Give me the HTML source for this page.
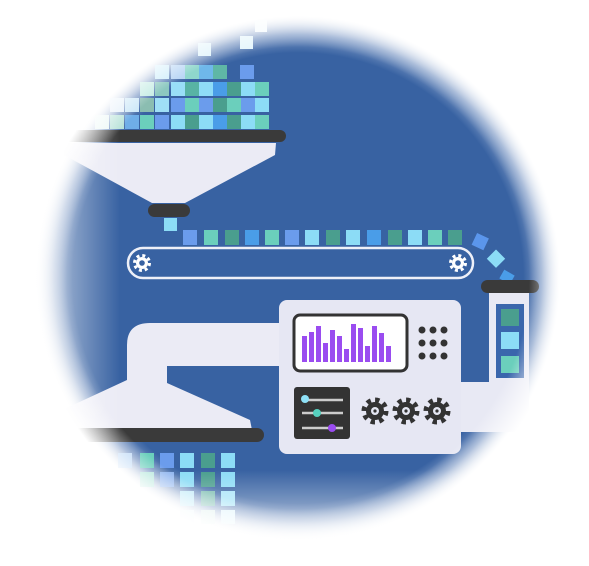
<!DOCTYPE html>
<html><head><style>
html,body{margin:0;padding:0;background:#fff;}
svg{display:block}
</style></head><body>
<svg width="589" height="566" viewBox="0 0 589 566" xmlns="http://www.w3.org/2000/svg">
<defs>
<radialGradient id="bg" cx="298" cy="278" r="262" gradientUnits="userSpaceOnUse">
<stop offset="0" stop-color="#3862a2"/>
<stop offset="0.86" stop-color="#3862a2"/>
<stop offset="0.93" stop-color="#7f9bc7"/>
<stop offset="1" stop-color="#ffffff"/>
</radialGradient>
<radialGradient id="fade" cx="298" cy="278" r="275" gradientUnits="userSpaceOnUse">
<stop offset="0" stop-color="#fff" stop-opacity="0"/>
<stop offset="0.84" stop-color="#fff" stop-opacity="0"/>
<stop offset="0.97" stop-color="#fff" stop-opacity="1"/>
</radialGradient>
<linearGradient id="lf" x1="0" x2="1">
<stop offset="0" stop-color="#fff" stop-opacity="1"/>
<stop offset="1" stop-color="#fff" stop-opacity="0"/>
</linearGradient>
<linearGradient id="bf" x1="0" y1="0" x2="0" y2="1">
<stop offset="0" stop-color="#fff" stop-opacity="0"/>
<stop offset="1" stop-color="#fff" stop-opacity="1"/>
</linearGradient>
<g id="gear">
<circle r="9" fill="#333"/>
<circle r="11" fill="none" stroke="#333" stroke-width="5" stroke-dasharray="4.3 4.3"/>
<circle r="4" fill="#e4e6f2"/>
<circle r="1.6" fill="#333"/>
</g>
<g id="wgear">
<circle r="6" fill="#fff"/>
<circle r="7.5" fill="none" stroke="#fff" stroke-width="3" stroke-dasharray="3 2.9"/>
<circle r="2.8" fill="#3862a2"/>
</g>
</defs>
<rect width="589" height="566" fill="#fff"/>
<ellipse cx="298" cy="278" rx="262" ry="262" fill="url(#bg)"/>

<!-- top pixels -->
<g>
<rect x="198" y="43" width="13" height="13" fill="#def3fb"/>
<rect x="240" y="36" width="13" height="13" fill="#e4f5fb"/>
<rect x="255" y="20" width="12" height="12" fill="#f2fafd"/>
<rect x="155" y="65" width="14" height="14" fill="#cfeefb"/>
<rect x="171" y="65" width="14" height="14" fill="#b9d6f5"/>
<rect x="185" y="65" width="14" height="14" fill="#8fd7cc"/>
<rect x="199" y="65" width="14" height="14" fill="#6fb8ea"/>
<rect x="213" y="65" width="14" height="14" fill="#5fb7a6"/>
<rect x="240" y="65" width="14" height="14" fill="#6b9cec"/>
<rect x="140" y="82" width="14" height="14" fill="#c5ece4"/>
<rect x="155" y="82" width="14" height="14" fill="#8cc8c0"/>
<rect x="171" y="82" width="14" height="14" fill="#99def7"/>
<rect x="185" y="82" width="14" height="14" fill="#58b3a4"/>
<rect x="199" y="82" width="14" height="14" fill="#8fdcf7"/>
<rect x="213" y="82" width="14" height="14" fill="#4a9de8"/>
<rect x="227" y="82" width="14" height="14" fill="#4a9e8e"/>
<rect x="241" y="82" width="14" height="14" fill="#8cdcf6"/>
<rect x="255" y="82" width="14" height="14" fill="#6bcfbc"/>
<rect x="110" y="98" width="14" height="14" fill="#e4f0fa"/>
<rect x="125" y="98" width="14" height="14" fill="#cde8f8"/>
<rect x="140" y="98" width="14" height="14" fill="#8bbdb1"/>
<rect x="155" y="98" width="14" height="14" fill="#9fdff6"/>
<rect x="171" y="98" width="14" height="14" fill="#6b9cec"/>
<rect x="185" y="98" width="14" height="14" fill="#6bcfbc"/>
<rect x="199" y="98" width="14" height="14" fill="#6b9cec"/>
<rect x="213" y="98" width="14" height="14" fill="#4a9e8e"/>
<rect x="227" y="98" width="14" height="14" fill="#6bcfbc"/>
<rect x="241" y="98" width="14" height="14" fill="#6b9cec"/>
<rect x="255" y="98" width="14" height="14" fill="#8cdcf6"/>
<rect x="95" y="115" width="14" height="14" fill="#e7f6f3"/>
<rect x="110" y="115" width="14" height="14" fill="#b9e3d9"/>
<rect x="125" y="115" width="14" height="14" fill="#6faee8"/>
<rect x="140" y="115" width="14" height="14" fill="#6bcfbc"/>
<rect x="155" y="115" width="14" height="14" fill="#6b9cec"/>
<rect x="171" y="115" width="14" height="14" fill="#8cdcf6"/>
<rect x="185" y="115" width="14" height="14" fill="#4a9e8e"/>
<rect x="199" y="115" width="14" height="14" fill="#8cdcf6"/>
<rect x="213" y="115" width="14" height="14" fill="#4a9de8"/>
<rect x="227" y="115" width="14" height="14" fill="#4a9e8e"/>
<rect x="241" y="115" width="14" height="14" fill="#8cdcf6"/>
<rect x="255" y="115" width="14" height="14" fill="#6bcfbc"/>
</g>

<!-- top funnel -->
<path d="M62 143 L276 143 L275 155 L185 203 L152 203 L64 155 Z" fill="#ebebf5"/>
<rect x="62" y="130" width="224" height="12" rx="6" fill="#3a3a3a"/>
<rect x="148" y="204" width="42" height="13" rx="6.5" fill="#3a3a3a"/>
<rect x="164" y="218" width="13" height="13" fill="#8cdcf6"/>

<!-- conveyor squares -->
<g>
<rect x="183" y="230" width="14" height="15" fill="#6b9cec"/>
<rect x="204" y="230" width="14" height="15" fill="#6bcfbc"/>
<rect x="225" y="230" width="14" height="15" fill="#4a9e8e"/>
<rect x="245" y="230" width="14" height="15" fill="#4a9de8"/>
<rect x="265" y="230" width="14" height="15" fill="#6bcfbc"/>
<rect x="285" y="230" width="14" height="15" fill="#6b9cec"/>
<rect x="305" y="230" width="14" height="15" fill="#8cdcf6"/>
<rect x="326" y="230" width="14" height="15" fill="#4a9e8e"/>
<rect x="346" y="230" width="14" height="15" fill="#8cdcf6"/>
<rect x="367" y="230" width="14" height="15" fill="#4a9de8"/>
<rect x="388" y="230" width="14" height="15" fill="#4a9e8e"/>
<rect x="408" y="230" width="14" height="15" fill="#8cdcf6"/>
<rect x="428" y="230" width="14" height="15" fill="#6bcfbc"/>
<rect x="448" y="230" width="14" height="15" fill="#4a9e8e"/>
<rect x="474" y="235" width="13" height="13" fill="#5b96ec" transform="rotate(25 480 241)"/>
<rect x="490" y="252" width="13" height="13" fill="#8cdcf6" transform="rotate(45 496 258)"/>
<rect x="501" y="272" width="12" height="10" fill="#4a9de8" transform="rotate(30 507 277)"/>
</g>

<!-- belt -->
<rect x="128" y="248" width="345" height="30" rx="15" fill="none" stroke="#eef0f8" stroke-width="2.5"/>
<use href="#wgear" x="142" y="263"/>
<use href="#wgear" x="458" y="263"/>

<!-- right tube -->
<path d="M460 382 L528 382 L528 420 Q528 432 516 432 L460 432 Z" fill="#e8e9f4"/>
<rect x="489" y="292" width="40" height="130" fill="#e8e9f4"/>
<rect x="481" y="280" width="58" height="13" rx="6.5" fill="#3a3a3a"/>
<rect x="496" y="304" width="28" height="74" fill="#3a66ac"/>
<rect x="501" y="309" width="18" height="17" fill="#4a9e8e"/>
<rect x="501" y="332" width="18" height="17" fill="#8cdcf6"/>
<rect x="501" y="356" width="18" height="17" fill="#6bcfbc"/>

<!-- left pipe and bottom funnel -->
<path d="M127 345 Q127 323 150 323 L285 323 L285 366 L167 366 L167 383 L250 420 L252 430 L40 430 L45 418 L127 380 Z" fill="#ebebf5"/>
<rect x="30" y="428" width="234" height="14" rx="7" fill="#3a3a3a"/>

<!-- bottom pixels -->
<g>
<rect x="118" y="453" width="14" height="15" fill="#b9d6f5"/>
<rect x="140" y="453" width="14" height="15" fill="#6bcfbc"/>
<rect x="160" y="453" width="14" height="15" fill="#6b9cec"/>
<rect x="180" y="453" width="14" height="15" fill="#8cdcf6"/>
<rect x="201" y="453" width="14" height="15" fill="#4a9e8e"/>
<rect x="221" y="453" width="14" height="15" fill="#8cdcf6"/>
<rect x="140" y="472" width="14" height="15" fill="#a9e3d6"/>
<rect x="160" y="472" width="14" height="15" fill="#8fb5ef"/>
<rect x="180" y="472" width="14" height="15" fill="#8cdcf6"/>
<rect x="201" y="472" width="14" height="15" fill="#4a9e8e"/>
<rect x="221" y="472" width="14" height="15" fill="#8cdcf6"/>
<rect x="180" y="491" width="14" height="15" fill="#b8e8f8"/>
<rect x="201" y="491" width="14" height="15" fill="#7cbdb1"/>
<rect x="221" y="491" width="14" height="15" fill="#a7e4f8"/>
<rect x="180" y="510" width="14" height="14" fill="#e3f5fc"/>
<rect x="201" y="510" width="14" height="14" fill="#d4ece8"/>
<rect x="221" y="510" width="14" height="14" fill="#d8f2fb"/>
</g>

<!-- machine panel -->
<rect x="279" y="300" width="182" height="154" rx="8" fill="#e6e7f3"/>
<rect x="294" y="315" width="113" height="56" rx="6" fill="#fff" stroke="#333" stroke-width="3"/>
<g fill="#9a4cf0">
<rect x="302" y="336" width="5" height="26"/>
<rect x="309" y="332" width="5" height="30"/>
<rect x="316" y="326" width="5" height="36"/>
<rect x="323" y="343" width="5" height="19"/>
<rect x="330" y="330" width="5" height="32"/>
<rect x="337" y="336" width="5" height="26"/>
<rect x="344" y="349" width="5" height="13"/>
<rect x="351" y="324" width="5" height="38"/>
<rect x="358" y="328" width="5" height="34"/>
<rect x="365" y="346" width="5" height="16"/>
<rect x="372" y="326" width="5" height="36"/>
<rect x="379" y="333" width="5" height="29"/>
<rect x="386" y="346" width="5" height="16"/>
</g>
<g fill="#333">
<circle cx="422" cy="330" r="3.5"/><circle cx="433" cy="330" r="3.5"/><circle cx="444" cy="330" r="3.5"/>
<circle cx="422" cy="343" r="3.5"/><circle cx="433" cy="343" r="3.5"/><circle cx="444" cy="343" r="3.5"/>
<circle cx="422" cy="356" r="3.5"/><circle cx="433" cy="356" r="3.5"/><circle cx="444" cy="356" r="3.5"/>
</g>
<rect x="294" y="387" width="56" height="52" rx="3" fill="#333"/>
<g stroke="#ccc" stroke-width="2.5">
<line x1="302" y1="400" x2="343" y2="400"/>
<line x1="302" y1="413" x2="343" y2="413"/>
<line x1="302" y1="428" x2="343" y2="428"/>
</g>
<circle cx="305" cy="399" r="4" fill="#8ee0f6"/>
<circle cx="317" cy="413" r="4" fill="#56d0be"/>
<circle cx="332" cy="428" r="4" fill="#9a4cf0"/>
<use href="#gear" x="375" y="411"/>
<use href="#gear" x="406" y="411"/>
<use href="#gear" x="437" y="411"/>

<!-- edge fades -->
<rect width="589" height="566" fill="url(#fade)"/>
<rect x="0" y="0" width="120" height="566" fill="url(#lf)"/>
<rect x="0" y="470" width="589" height="96" fill="url(#bf)"/>
</svg>
</body></html>
